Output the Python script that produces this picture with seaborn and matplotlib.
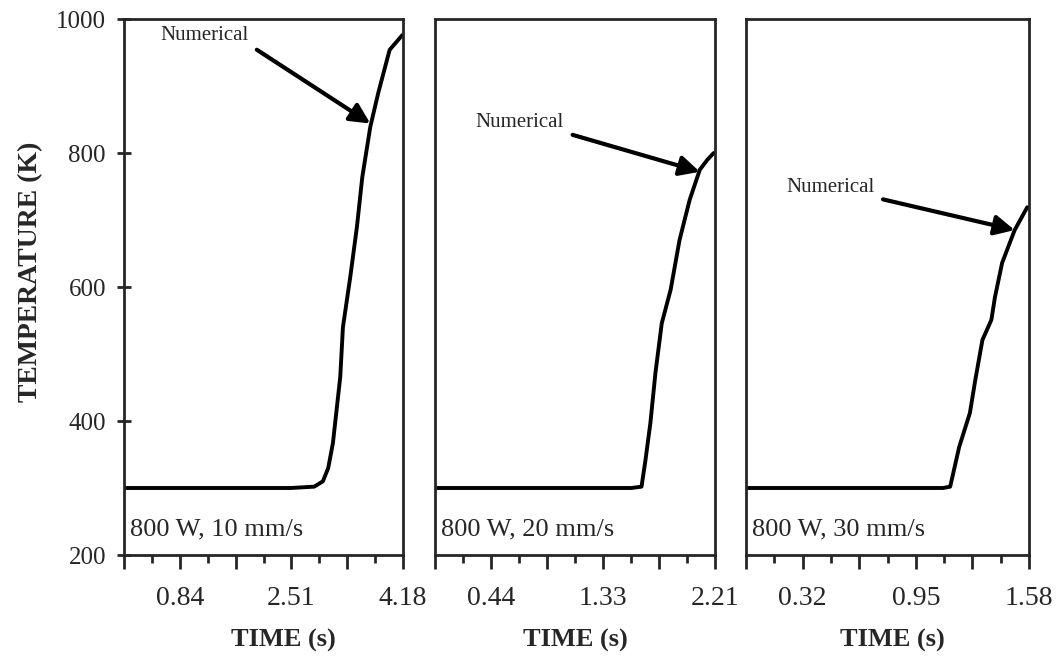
import numpy as np
import pandas as pd
import matplotlib
matplotlib.use("Agg")
import matplotlib.pyplot as plt
import seaborn as sns

# ---------------- data ----------------
panel_labels = ["800 W, 10 mm/s", "800 W, 20 mm/s", "800 W, 30 mm/s"]
t_max = [4.18, 2.21, 1.58]
xtick_labels_p1 = ["", "0.84", "", "2.51", "", "4.18"]
xtick_labels_p2 = ["", "0.44", "", "1.33", "", "2.21"]
xtick_labels_p3 = ["", "0.32", "", "0.95", "", "1.58"]

time_p1 = [0.0, 0.5, 1.0, 1.5, 2.0, 2.5, 2.85, 2.98, 3.06, 3.13, 3.24, 3.28, 3.39, 3.49, 3.57, 3.69, 3.81, 3.98, 4.17]
temp_p1 = [300, 300, 300, 300, 300, 300, 302, 310, 330, 367, 466, 540, 615, 690, 764, 839, 890, 954, 976]

time_p2 = [0.0, 0.4, 0.8, 1.2, 1.55, 1.63, 1.66, 1.70, 1.74, 1.79, 1.86, 1.93, 2.01, 2.09, 2.15, 2.20]
temp_p2 = [300, 300, 300, 300, 300, 302, 340, 397, 472, 546, 596, 670, 730, 775, 790, 800]

time_p3 = [0.0, 0.3, 0.6, 0.9, 1.10, 1.14, 1.19, 1.25, 1.28, 1.32, 1.37, 1.39, 1.43, 1.50, 1.57]
temp_p3 = [300, 300, 300, 300, 300, 302, 361, 412, 461, 521, 551, 585, 636, 685, 719]

# annotation: (text x, text y, arrow tip x, arrow tip y) in data units
annot_p1 = (1.21, 976, 3.69, 844)
annot_p2 = (0.67, 845, 2.09, 772)
annot_p3 = (0.47, 748, 1.50, 685)

yticks = [200, 400, 600, 800, 1000]

# ---------------- style ----------------
sns.set_style("ticks")
plt.rcParams["font.family"] = ["Liberation Serif", "DejaVu Serif"]
plt.rcParams["axes.linewidth"] = 2.0

df = pd.concat([
    pd.DataFrame({"time": time_p1, "temp": temp_p1, "panel": 0}),
    pd.DataFrame({"time": time_p2, "temp": temp_p2, "panel": 1}),
    pd.DataFrame({"time": time_p3, "temp": temp_p3, "panel": 2}),
])
tick_labels = [xtick_labels_p1, xtick_labels_p2, xtick_labels_p3]
annots = [annot_p1, annot_p2, annot_p3]
xlabel_xfrac = [0.573, 0.50, 0.516]

fig = plt.figure(figsize=(10.6, 6.67), dpi=100)
W, H = 1060, 667
lefts = [124, 435, 746]
rights = [403, 715, 1029]
top_px, bot_px = 19, 555

for i in range(3):
    ax = fig.add_axes([lefts[i] / W, 1 - bot_px / H, (rights[i] - lefts[i]) / W, (bot_px - top_px) / H])
    sub = df[df["panel"] == i]
    sns.lineplot(data=sub, x="time", y="temp", ax=ax, color="black", lw=2.8,
                 estimator=None, sort=False)
    tm = t_max[i]
    ax.set_xlim(0, tm)
    ax.set_ylim(200, 1000)
    major = np.linspace(0, tm, 6)
    ax.set_xticks(major)
    ax.set_xticklabels(tick_labels[i])
    ax.set_xticks((major[:-1] + major[1:]) / 2, minor=True)
    ax.tick_params(axis="x", which="major", direction="out", length=10, width=2,
                   labelsize=20, pad=12)
    ax.tick_params(axis="x", which="minor", direction="out", length=6, width=2)
    ax.set_xlabel("TIME (s)", fontsize=19, fontweight="bold")
    ax.xaxis.label.set_va("center")
    ax.xaxis.set_label_coords(xlabel_xfrac[i], -0.159)
    ax.set_yticks(yticks)
    if i == 0:
        ax.tick_params(axis="y", direction="inout", length=10, width=2,
                       labelsize=18, pad=8)
        ax.set_ylabel("TEMPERATURE (K)", fontsize=20, fontweight="bold")
        ax.yaxis.label.set_va("center")
        ax.yaxis.set_label_coords(-0.335, 0.528)
    else:
        ax.tick_params(axis="y", length=0, labelleft=False)
        ax.set_ylabel("")
    for s in ax.spines.values():
        s.set_visible(True)
        s.set_linewidth(2)
    ax.text(0.022, 0.048, panel_labels[i], transform=ax.transAxes,
            fontsize=19, ha="left", va="center")
    tx, ty, ax_, ay_ = annots[i]
    ax.annotate("Numerical", xy=(ax_, ay_), xytext=(tx, ty),
                ha="center", va="center", fontsize=15,
                arrowprops=dict(arrowstyle="-|>", color="black", lw=3,
                                mutation_scale=30, relpos=(1.0, 0.0),
                                shrinkA=4, shrinkB=0))

fig.savefig("out.png", dpi=100)
